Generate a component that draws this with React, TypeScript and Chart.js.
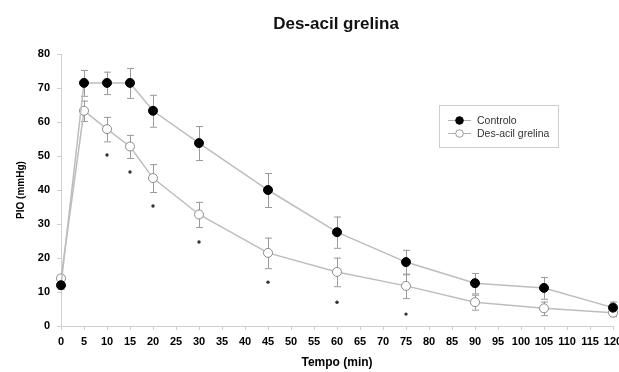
import React, { useEffect, useRef } from "react";
import { Chart, registerables } from "chart.js";

Chart.register(...registerables);

const timePoints = [0, 5, 10, 15, 20, 30, 45, 60, 75, 90, 105, 120];
const controloMean = [12, 71.5, 71.5, 71.5, 63.3, 53.8, 40, 27.6, 18.8, 12.6, 11.2, 5.4];
const controloSem = [1, 3.8, 3.3, 4.4, 4.7, 5, 5, 4.6, 3.6, 3, 3.2, 1.8];
const desacilMean = [14, 63.3, 57.9, 52.8, 43.5, 32.8, 21.5, 15.9, 11.8, 7, 5.2, 3.9];
const desacilSem = [1, 3, 3.6, 3.4, 4.1, 3.7, 4.5, 4.2, 3.6, 2.2, 2, 1];
const starTimes = [10, 15, 20, 30, 45, 60, 75];
const starValues = [50.3, 45.3, 35.3, 24.7, 12.9, 7, 3.5];
const xTicks = [0, 5, 10, 15, 20, 25, 30, 35, 40, 45, 50, 55, 60, 65, 70, 75, 80, 85, 90, 95, 100, 105, 110, 115, 120];
const yTicks = [0, 10, 20, 30, 40, 50, 60, 70, 80];

const errorBarPlugin = {
  id: "errorBars",
  beforeDatasetsDraw(chart: any) {
    const ctx = chart.ctx;
    const xs = chart.scales.x;
    const ys = chart.scales.y;
    const sets = [
      { mean: controloMean, sem: controloSem },
      { mean: desacilMean, sem: desacilSem },
    ];
    ctx.save();
    ctx.strokeStyle = "#9a9a9a";
    ctx.lineWidth = 1;
    sets.forEach((s) => {
      timePoints.forEach((t, i) => {
        const x = xs.getPixelForValue(t);
        const yt = ys.getPixelForValue(s.mean[i] + s.sem[i]);
        const yb = ys.getPixelForValue(s.mean[i] - s.sem[i]);
        ctx.beginPath();
        ctx.moveTo(x + 0.5, yt);
        ctx.lineTo(x + 0.5, yb);
        ctx.moveTo(x - 3, yt + 0.5);
        ctx.lineTo(x + 4, yt + 0.5);
        ctx.moveTo(x - 3, yb + 0.5);
        ctx.lineTo(x + 4, yb + 0.5);
        ctx.stroke();
      });
    });
    ctx.restore();
  },
};

const overlayPlugin = {
  id: "overlay",
  afterDraw(chart: any) {
    const ctx = chart.ctx;
    ctx.save();
    ctx.fillStyle = "#111";
    ctx.font = "bold 17px 'Liberation Sans', Arial, sans-serif";
    ctx.textAlign = "center";
    ctx.textBaseline = "middle";
    ctx.fillText("Des-acil grelina", 336, 24);
    ctx.strokeStyle = "#cfcfcf";
    ctx.lineWidth = 1;
    ctx.strokeRect(439.5, 105.5, 119, 42);
    const entries = [
      { label: "Controlo", fill: "#000", y: 120 },
      { label: "Des-acil grelina", fill: "#fff", y: 133 },
    ];
    entries.forEach((e) => {
      ctx.strokeStyle = "#b0b0b0";
      ctx.beginPath();
      ctx.moveTo(448, e.y + 0.5);
      ctx.lineTo(471, e.y + 0.5);
      ctx.stroke();
      ctx.beginPath();
      ctx.arc(459.5, e.y + 0.5, 3.8, 0, Math.PI * 2);
      ctx.fillStyle = e.fill;
      ctx.fill();
      ctx.strokeStyle = e.fill === "#000" ? "#000" : "#999";
      ctx.stroke();
      ctx.fillStyle = "#333";
      ctx.font = "10.5px 'Liberation Sans', Arial, sans-serif";
      ctx.textAlign = "left";
      ctx.fillText(e.label, 477, e.y + 1);
    });
    ctx.restore();
  },
};

export default function App() {
  const ref = useRef<HTMLCanvasElement>(null);
  useEffect(() => {
    if (!ref.current) return;
    const chart = new Chart(ref.current, {
      type: "line",
      data: {
        datasets: [
          {
            label: "Controlo",
            data: timePoints.map((t, i) => ({ x: t, y: controloMean[i] })),
            borderColor: "#bdbdbd",
            borderWidth: 1.5,
            backgroundColor: "#000",
            pointBackgroundColor: "#000",
            pointBorderColor: "#000",
            pointRadius: 4.5,
            pointBorderWidth: 1,
            tension: 0,
            clip: false,
          },
          {
            label: "Des-acil grelina",
            data: timePoints.map((t, i) => ({ x: t, y: desacilMean[i] })),
            borderColor: "#bdbdbd",
            borderWidth: 1.5,
            backgroundColor: "#fff",
            pointBackgroundColor: "#fff",
            pointBorderColor: "#8a8a8a",
            pointRadius: 4.5,
            pointBorderWidth: 1,
            tension: 0,
            clip: false,
          },
          {
            label: "*",
            data: starTimes.map((t, i) => ({ x: t, y: starValues[i] })),
            showLine: false,
            pointRadius: 1.7,
            pointBackgroundColor: "#333",
            pointBorderColor: "#333",
            pointBorderWidth: 0,
            clip: false,
          },
        ],
      },
      options: {
        animation: false,
        responsive: false,
        maintainAspectRatio: false,
        layout: { padding: { top: 54, right: 6, left: 0, bottom: 0 } },
        plugins: {
          legend: { display: false },
          title: { display: false },
          tooltip: { enabled: false },
        },
        scales: {
          x: {
            type: "linear",
            min: 0,
            max: 120,
            afterBuildTicks: (s: any) => {
              s.ticks = xTicks.map((v) => ({ value: v }));
            },
            afterFit: (s: any) => {
              s.paddingRight = 0;
              s.paddingLeft = 0;
              s.height = 46;
            },
            grid: {
              display: true,
              drawOnChartArea: false,
              drawTicks: true,
              tickLength: 4,
              color: "#cfcfcf",
            },
            border: { color: "#cfcfcf", width: 1 },
            ticks: {
              color: "#000",
              font: { family: "'Liberation Sans', Arial, sans-serif", size: 11, weight: "bold" },
              padding: 5,
              maxRotation: 0,
              autoSkip: false,
            },
            title: {
              display: true,
              text: "Tempo (min)",
              color: "#000",
              font: { family: "'Liberation Sans', Arial, sans-serif", size: 12, weight: "bold" },
              padding: { top: 2, bottom: 2 },
            },
          },
          y: {
            min: 0,
            max: 80,
            afterBuildTicks: (s: any) => {
              s.ticks = yTicks.map((v) => ({ value: v }));
            },
            afterFit: (s: any) => {
              s.width = 61;
            },
            grid: {
              display: true,
              drawOnChartArea: false,
              drawTicks: true,
              tickLength: 4,
              color: "#cfcfcf",
            },
            border: { color: "#cfcfcf", width: 1 },
            ticks: {
              color: "#000",
              font: { family: "'Liberation Sans', Arial, sans-serif", size: 11, weight: "bold" },
              padding: 7,
            },
            title: {
              display: true,
              text: "PIO (mmHg)",
              color: "#000",
              font: { family: "'Liberation Sans', Arial, sans-serif", size: 10, weight: "bold" },
              padding: { top: 15, bottom: 0 },
            },
          },
        },
      },
      plugins: [errorBarPlugin, overlayPlugin],
    } as any);
    return () => chart.destroy();
  }, []);
  return (
    <div style={{ position: "fixed", left: 0, top: 0, width: 619, height: 372, background: "#fff" }}>
      <canvas ref={ref} width={619} height={372} style={{ width: 619, height: 372 }} />
    </div>
  );
}
